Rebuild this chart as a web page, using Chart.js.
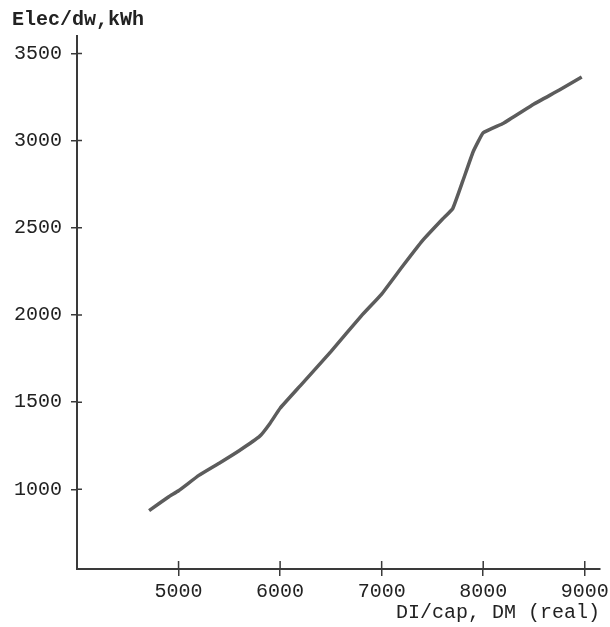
<!DOCTYPE html>
<html>
<head>
<meta charset="utf-8">
<script src="https://cdn.jsdelivr.net/npm/chart.js@4/dist/chart.umd.min.js"></script>
<style>
  html, body { margin: 0; padding: 0; background: #fff; }
  #wrap { width: 610px; height: 627px; }
</style>
</head>
<body>
<div id="wrap"><canvas id="myChart"></canvas></div>
<script>
// Disposable income per capita (DM, real) vs electricity per dwelling (kWh)
const incomeDM = [4710, 4900, 5000, 5200, 5400, 5600, 5800, 5900, 6000, 6200, 6500, 6800,
                  7000, 7200, 7400, 7600, 7700, 7800, 7900, 8000, 8200, 8500, 8750, 8970];
const elecKWh = [878, 956, 992, 1080, 1150, 1223, 1305, 1378, 1465, 1595, 1790, 1995,
                 2120, 2275, 2425, 2550, 2610, 2770, 2935, 3045, 3100, 3210, 3290, 3365];

// Tick labels on the axes
const xTicks = [5000, 6000, 7000, 8000, 9000];
const yTicks = [1000, 1500, 2000, 2500, 3000, 3500];

const ink = "#3a3a3a";
const typeFont = { family: "'Liberation Mono', 'DejaVu Sans Mono', monospace", size: 20 };

// Chart.js only draws ticks outside the axis, the original has small crosses
const crossTicks = {
  id: "crossTicks",
  afterDraw(chart) {
    const { ctx, chartArea } = chart;
    const x = chart.scales.x, y = chart.scales.y;
    ctx.save();
    ctx.strokeStyle = ink;
    ctx.lineWidth = 1.5;
    ctx.beginPath();
    xTicks.forEach(v => {
      const px = x.getPixelForValue(v);
      ctx.moveTo(px, chartArea.bottom);
      ctx.lineTo(px, chartArea.bottom - 8);
    });
    yTicks.forEach(v => {
      const py = y.getPixelForValue(v);
      ctx.moveTo(chartArea.left, py);
      ctx.lineTo(chartArea.left + 5, py);
    });
    ctx.stroke();
    ctx.restore();
  }
};

const canvas = document.getElementById("myChart");
const ctx = canvas.getContext("2d");

new Chart(ctx, {
  type: "line",
  data: {
    datasets: [{
      data: incomeDM.map((v, i) => ({ x: v, y: elecKWh[i] })),
      borderColor: "#5c5c5c",
      borderWidth: 3.5,
      pointRadius: 0,
      tension: 0.1,
      fill: false
    }]
  },
  options: {
    responsive: true,
    maintainAspectRatio: false,
    animation: false,
    layout: { padding: { left: 12, right: 10, top: 0, bottom: 0 } },
    plugins: {
      legend: { display: false },
      tooltip: { enabled: false },
      title: {
        display: true,
        text: "Elec/dw,kWh",
        align: "start",
        color: "#222",
        font: { ...typeFont, weight: "bold" },
        padding: { top: 8, bottom: 4 }
      }
    },
    scales: {
      x: {
        type: "linear",
        min: 4000,
        max: 9150,
        afterBuildTicks: s => { s.ticks = xTicks.map(v => ({ value: v })); },
        afterFit: s => { s.height = 58; s.paddingLeft = 0; s.paddingRight = 0; },
        border: { color: ink, width: 2 },
        grid: { drawOnChartArea: false, drawTicks: true, tickLength: 7, color: ink, lineWidth: 1.5 },
        ticks: { color: "#222", font: typeFont, padding: 4, maxRotation: 0, callback: v => String(v) },
        title: {
          display: true,
          text: "DI/cap, DM (real)",
          align: "end",
          color: "#222",
          font: typeFont,
          padding: { top: 0, bottom: 2 }
        }
      },
      y: {
        min: 543,
        max: 3600,
        afterBuildTicks: s => { s.ticks = yTicks.map(v => ({ value: v })); },
        afterFit: s => { s.width = 65; s.paddingTop = 0; s.paddingBottom = 0; },
        border: { color: ink, width: 2 },
        grid: { drawOnChartArea: false, drawTicks: true, tickLength: 6, color: ink, lineWidth: 1.5 },
        ticks: { color: "#222", font: typeFont, padding: 9, callback: v => String(v) }
      }
    }
  },
  plugins: [crossTicks]
});
</script>
</body>
</html>
